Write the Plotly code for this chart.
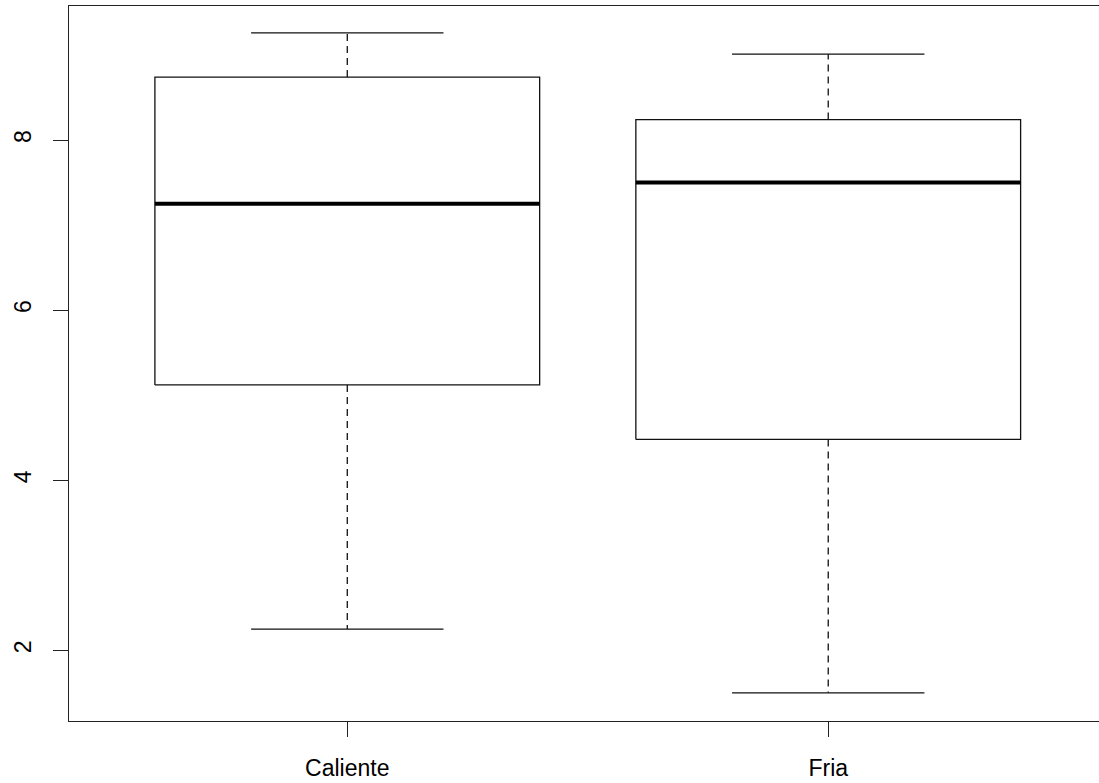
import plotly.graph_objects as go

categories = ["Caliente", "Fria"]
lower_whisker = [2.25, 1.50]
q1 = [5.12, 4.48]
median = [7.25, 7.50]
q3 = [8.74, 8.24]
upper_whisker = [9.26, 9.01]
y_ticks = [2, 4, 6, 8]

BOX_HALF = 0.4
CAP_HALF = 0.2
LINE = "#111111"

fig = go.Figure()
for i, name in enumerate(categories):
    pos = i + 1
    # box
    fig.add_trace(go.Scatter(
        x=[pos - BOX_HALF, pos + BOX_HALF, pos + BOX_HALF, pos - BOX_HALF, pos - BOX_HALF],
        y=[q1[i], q1[i], q3[i], q3[i], q1[i]],
        mode="lines", line=dict(color=LINE, width=1.3), hoverinfo="skip"))
    # median
    fig.add_trace(go.Scatter(
        x=[pos - BOX_HALF, pos + BOX_HALF], y=[median[i], median[i]],
        mode="lines", line=dict(color="black", width=4), hoverinfo="skip"))
    # whiskers (dashed)
    fig.add_trace(go.Scatter(
        x=[pos, pos], y=[q3[i], upper_whisker[i]],
        mode="lines", line=dict(color=LINE, width=1.3, dash="7px,5px"), hoverinfo="skip"))
    fig.add_trace(go.Scatter(
        x=[pos, pos], y=[q1[i], lower_whisker[i]],
        mode="lines", line=dict(color=LINE, width=1.3, dash="7px,5px"), hoverinfo="skip"))
    # caps
    fig.add_trace(go.Scatter(
        x=[pos - CAP_HALF, pos + CAP_HALF], y=[upper_whisker[i], upper_whisker[i]],
        mode="lines", line=dict(color=LINE, width=1.3), hoverinfo="skip"))
    fig.add_trace(go.Scatter(
        x=[pos - CAP_HALF, pos + CAP_HALF], y=[lower_whisker[i], lower_whisker[i]],
        mode="lines", line=dict(color=LINE, width=1.3), hoverinfo="skip"))

fig.update_layout(
    width=1099, height=783,
    margin=dict(l=69, r=0, t=6, b=62),
    paper_bgcolor="white", plot_bgcolor="white",
    showlegend=False,
    font=dict(family="Liberation Sans, Arial, sans-serif", size=23, color="black"),
)
fig.update_xaxes(
    range=[0.4214, 2.563], tickmode="array",
    tickvals=[i + 1 for i in range(len(categories))], ticktext=categories,
    showgrid=False, zeroline=False,
    showline=True, linecolor="#222222", linewidth=1.3, mirror=True,
    ticks="outside", ticklen=15, tickcolor="#222222", tickwidth=1.3,
    ticklabelstandoff=11,
)
fig.update_yaxes(
    range=[1.169, 9.576], tickmode="array", tickvals=y_ticks,
    ticktext=[str(t) for t in y_ticks], tickangle=-90,
    showgrid=False, zeroline=False,
    showline=True, linecolor="#222222", linewidth=1.3,
    ticks="outside", ticklen=15, tickcolor="#222222", tickwidth=1.3,
    ticklabelstandoff=13,
)
fig.write_html(
    "out.html",
    config={"displayModeBar": False},
    post_script="document.body.style.margin='0';document.body.style.overflow='hidden';",
)
